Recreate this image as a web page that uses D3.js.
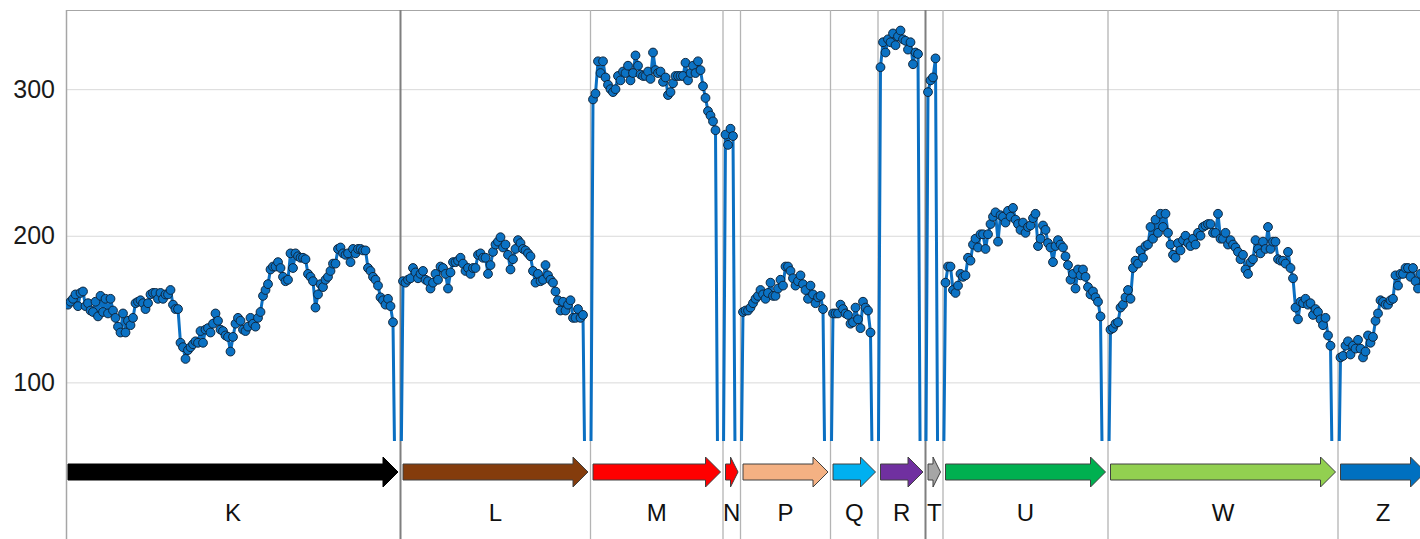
<!DOCTYPE html>
<html>
<head>
<meta charset="utf-8">
<script src="https://cdn.jsdelivr.net/npm/d3@7"></script>
<style>
body { margin: 0; background: #fff; }
svg { display: block; font-family: "Liberation Sans", Arial, sans-serif; }
</style>
</head>
<body>
<svg id="chart" width="1420" height="539"></svg>
<script>
// gene blocks, left to right
const genes = ["K", "L", "M", "N", "P", "Q", "R", "T", "U", "W", "Z"];
const geneColors = ["#000000", "#843c0c", "#ff0000", "#ff0000", "#f4b183", "#00b0f0",
                    "#7030a0", "#a6a6a6", "#00b050", "#92d050", "#0070c0"];

// values along each gene
const kVals = [153,155,157,160,152,161,162,152,154,149,148,155,145,159,148,157,147,157,149,144,
               138,134,147,134,142,139,144,154,155,156,154,150,154,160,161,161,157,161,157,160,
               160,163,153,150,150,127,124,116,122,124,126,128,127,135,127,136,137,134,140,147,
               142,136,135,132,131,121,131,140,144,142,136,135,138,144,140,138,144,148,159,163,
               167,177,179,179,182,178,172,169,170,188,178,188,186,185,185,184,174,172,169,151,
               160,167,165,170,172,176,181,181,191,192,188,187,188,182,191,188,191,191,190,190,
               178,176,172,170,166,158,156,153,157,152,141];
const lVals = [169,168,170,171,178,175,171,174,176,170,169,164,168,174,170,179,178,174,164,175,
               182,182,183,185,181,176,178,174,178,178,187,188,185,185,174,180,189,194,196,199,
               192,194,187,177,184,191,197,195,191,190,188,186,176,168,174,169,170,180,173,170,
               168,162,156,149,155,149,153,156,144,144,150,144,146];
const mVals = [293,297,319,311,319,308,303,300,298,300,309,306,312,311,316,306,311,323,316,310,
               309,309,312,307,325,313,311,312,305,308,296,298,304,309,309,309,309,318,306,311,
               316,311,319,313,302,294,285,282,278,272];
const nVals = [269,262,273,268];
const pVals = [148,149,149,151,154,157,159,163,160,157,161,168,159,159,164,170,166,179,179,176,
               171,166,169,173,167,163,157,166,160,154,158,159,150];
const qVals = [147,147,147,153,150,147,146,140,141,151,143,137,155,151,149,134];
const rVals = [315,332,325,334,332,338,330,336,340,334,333,327,332,317,325,324];
const tVals = [298,306,308,321];
const uVals = [168,179,179,163,161,166,174,172,173,185,183,194,198,192,201,201,191,201,208,213,
               216,196,214,213,209,217,213,219,211,208,204,209,202,206,207,212,215,193,198,207,
               204,195,192,182,193,197,194,192,186,180,170,174,164,177,173,177,172,165,160,162,
               158,155,145];
const wVals = [136,137,140,141,151,153,158,163,157,178,183,181,190,185,193,194,206,198,211,202,
               215,206,215,202,194,187,185,195,190,197,200,195,193,198,194,202,200,206,207,208,
               208,202,202,215,198,198,202,194,197,194,192,189,184,187,177,174,182,184,197,191,
               188,196,191,206,191,196,196,184,183,183,181,189,178,171,151,143,155,154,157,153,
               154,146,150,148,143,139,144,132,125];
const zVals = [117,118,125,128,119,125,123,129,123,117,121,132,127,131,142,147,156,155,153,153,
               156,157,173,166,174,174,178,178,172,178,169,164,174];

const segments = [kVals, lVals, mVals, nVals, pVals, qVals, rVals, tVals, uVals, wVals, zVals];
const gapLength = 3;      // empty positions between genes, plotted at 0
const gapValue = 0;
const yTicks = [100, 200, 300];

// one continuous series, genes joined by gap positions
let series = [];
let spans = [];
let gapEnds = [];
segments.forEach((vals, s) => {
    if (s > 0) {
        for (let g = 0; g < gapLength; g++) series.push({ i: series.length, v: gapValue, gap: true });
        gapEnds.push(series.length - 1);
    }
    let start = series.length;
    vals.forEach(v => series.push({ i: series.length, v: v, gap: false }));
    spans.push({ gene: genes[s], color: geneColors[s], start: start, end: series.length - 1 });
});

const width = 1420, height = 539;
const plotLeft = 66, plotTop = 10, plotBottom = 441;

const svg = d3.select("#chart");

let xScale = d3.scaleLinear()
    .domain([0, series.length - 1])
    .range([68, 1420.5]);

let yScale = d3.scaleLinear()
    .domain([60, 354])
    .range([plotBottom, plotTop]);

svg.append("defs").append("clipPath").attr("id", "plotClip")
    .append("rect")
    .attr("x", plotLeft).attr("y", plotTop)
    .attr("width", width - plotLeft).attr("height", plotBottom - plotTop);

// gridlines + tick labels
let yAxis = d3.axisLeft(yScale)
    .tickValues(yTicks)
    .tickSize(-(width - plotLeft))
    .tickPadding(11);

let yG = svg.append("g")
    .attr("transform", `translate(${plotLeft},0)`)
    .call(yAxis);
yG.select(".domain").remove();
yG.selectAll(".tick line").attr("stroke", "#d9d9d9").attr("stroke-width", 1);
yG.selectAll(".tick text")
    .attr("fill", "#1a1a1a")
    .style("font-size", "25px")
    .style("font-family", "'Liberation Sans', Arial, sans-serif");

// frame: top edge and left edge
svg.append("line")
    .attr("x1", plotLeft).attr("x2", width)
    .attr("y1", plotTop + 0.5).attr("y2", plotTop + 0.5)
    .attr("stroke", "#a6a6a6").attr("stroke-width", 1);
svg.append("line")
    .attr("x1", plotLeft + 0.5).attr("x2", plotLeft + 0.5)
    .attr("y1", plotTop).attr("y2", height)
    .attr("stroke", "#a6a6a6").attr("stroke-width", 1.5);

// separators between genes
const strongAfter = ["K", "R"];
svg.append("g").selectAll("line")
    .data(gapEnds)
    .enter().append("line")
        .attr("x1", d => xScale(d)).attr("x2", d => xScale(d))
        .attr("y1", plotTop).attr("y2", height)
        .attr("stroke", (d, i) => strongAfter.includes(genes[i]) ? "#7f7f7f" : "#b4b4b4")
        .attr("stroke-width", (d, i) => strongAfter.includes(genes[i]) ? 2 : 1.3);

// line + points
let plot = svg.append("g").attr("clip-path", "url(#plotClip)");

let line = d3.line()
    .x(d => xScale(d.i))
    .y(d => yScale(d.v));

plot.append("path")
    .datum(series)
    .attr("fill", "none")
    .attr("stroke", "#0a6fc2")
    .attr("stroke-width", 3)
    .attr("stroke-linejoin", "round")
    .attr("d", line);

plot.selectAll("circle")
    .data(series.filter(d => !d.gap))
    .enter().append("circle")
        .attr("cx", d => xScale(d.i))
        .attr("cy", d => yScale(d.v))
        .attr("r", 4.4)
        .attr("fill", "#0b72c4")
        .attr("stroke", "#10263c")
        .attr("stroke-width", 1);

// gene arrows
const arrowY = 472;
function arrowPath(x0, x1) {
    let hl = Math.min(15, (x1 - x0) * 0.6);
    return `M${x0},${arrowY - 8} L${x1 - hl},${arrowY - 8} L${x1 - hl},${arrowY - 15} L${x1},${arrowY} ` +
           `L${x1 - hl},${arrowY + 15} L${x1 - hl},${arrowY + 8} L${x0},${arrowY + 8} Z`;
}

let arrows = svg.append("g");
arrows.selectAll("path")
    .data(spans)
    .enter().append("path")
        .attr("d", d => arrowPath(xScale(d.start), xScale(d.end) + 5))
        .attr("fill", d => d.color)
        .attr("stroke", d => d.gene == "K" ? "#000" : "#404040")
        .attr("stroke-width", 1);

arrows.selectAll("text")
    .data(spans)
    .enter().append("text")
        .attr("x", d => (xScale(d.start) + xScale(d.end) + 5) / 2)
        .attr("y", 521)
        .attr("text-anchor", "middle")
        .attr("fill", "#111")
        .style("font-size", "24px")
        .text(d => d.gene);
</script>
</body>
</html>
